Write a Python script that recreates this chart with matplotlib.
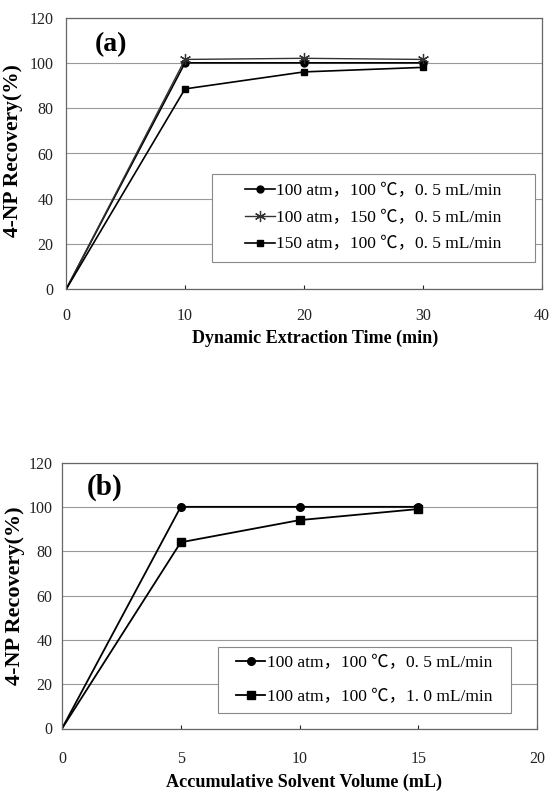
"""
4-NP recovery curves: (a) vs dynamic extraction time, (b) vs accumulated solvent volume.
"""
import matplotlib
matplotlib.use("Agg")
import matplotlib.pyplot as plt
from matplotlib.patches import Rectangle

# panel (a): dynamic extraction time (min)
time_min = [0, 10, 20, 30]
rec_a_100atm_100c = [0, 100, 100, 100]
rec_a_100atm_150c = [0, 101.5, 102, 101.5]
rec_a_150atm_100c = [0, 88.5, 96, 98]
labels_a = ["100 atm，100 ℃，0. 5 mL/min",
            "100 atm，150 ℃，0. 5 mL/min",
            "150 atm，100 ℃，0. 5 mL/min"]

# panel (b): accumulated solvent volume (mL)
volume_ml = [0, 5, 10, 15]
rec_b_05 = [0, 100, 100, 100]
rec_b_10 = [0, 84, 94, 99]
labels_b = ["100 atm，100 ℃，0. 5 mL/min",
            "100 atm，100 ℃，1. 0 mL/min"]

SERIF = ["Liberation Serif", "DejaVu Serif"]
LEG_FONT = ["Liberation Serif", "Noto Sans CJK SC", "DejaVu Sans"]
NO_ORIGIN = [1, 2, 3]  # the origin point carries no marker in the original


def style_axes(ax, xmax, xstep, xpad, ypad):
    ax.set_ylim(0, 120)
    ax.set_xlim(0, xmax)
    ax.set_yticks(range(0, 121, 20))
    ax.set_xticks(range(0, xmax + 1, xstep))
    ax.grid(axis="y", color="#999999", linewidth=0.8)
    ax.set_axisbelow(True)
    for s in ax.spines.values():
        s.set_color("#666666")
        s.set_linewidth(0.9)
    ax.tick_params(axis="x", direction="in", length=3, pad=xpad, colors="#222222",
                   labelsize=11.5)
    ax.tick_params(axis="y", length=0, pad=ypad, colors="#222222", labelsize=11.5)
    for lab in ax.get_xticklabels() + ax.get_yticklabels():
        lab.set_family(SERIF)


def boxed_legend(ax, box, spacing):
    """Legend centred inside a fixed frame given in axes fraction (x0, y0, x1, y1)."""
    x0, y0, x1, y1 = box
    ax.add_patch(Rectangle((x0, y0), x1 - x0, y1 - y0, transform=ax.transAxes,
                           facecolor="white", edgecolor="#888888", linewidth=0.8, zorder=4))
    leg = ax.legend(loc="center", bbox_to_anchor=((x0 + x1) / 2, (y0 + y1) / 2),
                    prop={"family": LEG_FONT, "size": 12.5}, frameon=False,
                    handlelength=1.7, handletextpad=0.1, borderpad=0, labelspacing=spacing)
    leg.set_zorder(5)
    return leg


fig = plt.figure(figsize=(5.52, 7.92), dpi=100)

# ---- panel (a)
ax1 = fig.add_axes([66 / 552, 1 - 289.5 / 792, 476 / 552, 272 / 792])
ax1.plot(time_min, rec_a_100atm_100c, color="black", lw=1.2, marker="o", ms=5,
         markevery=NO_ORIGIN, label=labels_a[0])
ax1.plot(time_min, rec_a_100atm_150c, color="#333333", lw=1.0, marker=(6, 2, 0), ms=8, mew=0.9,
         markevery=NO_ORIGIN, label=labels_a[1])
ax1.plot(time_min, rec_a_150atm_100c, color="black", lw=1.2, marker="s", ms=5,
         markevery=NO_ORIGIN, label=labels_a[2])
style_axes(ax1, 40, 10, xpad=13, ypad=9)
ax1.set_xlabel("Dynamic Extraction Time (min)", family=SERIF, fontweight="bold", fontsize=13)
ax1.xaxis.set_label_coords(0.523, -0.149)
ax1.set_ylabel("4-NP Recovery(%)", family=SERIF, fontweight="bold", fontsize=15.5)
ax1.yaxis.set_label_coords(-0.09, 0.51)
ax1.text(3.78, 107.9, "(a)", family=SERIF, fontweight="bold", fontsize=20,
         ha="center", va="center")
boxed_legend(ax1, (0.307, 0.101, 0.985, 0.425), spacing=0.6)

# ---- panel (b)
ax2 = fig.add_axes([62 / 552, 1 - 728.5 / 792, 475 / 552, 266 / 792])
ax2.plot(volume_ml, rec_b_05, color="black", lw=1.3, marker="o", ms=5.5,
         markevery=NO_ORIGIN, label=labels_b[0])
ax2.plot(volume_ml, rec_b_10, color="black", lw=1.3, marker="s", ms=5.5,
         markevery=NO_ORIGIN, label=labels_b[1])
style_axes(ax2, 20, 5, xpad=16, ypad=7)
ax2.set_xlabel("Accumulative Solvent Volume (mL)", family=SERIF, fontweight="bold", fontsize=13.1)
ax2.xaxis.set_label_coords(0.509, -0.171)
ax2.set_ylabel("4-NP Recovery(%)", family=SERIF, fontweight="bold", fontsize=16)
ax2.yaxis.set_label_coords(-0.078, 0.5)
ax2.text(1.81, 108.9, "(b)", family=SERIF, fontweight="bold", fontsize=21,
         ha="center", va="center")
boxed_legend(ax2, (0.328, 0.058, 0.945, 0.306), spacing=1.0)

fig.savefig("out.png", dpi=100, facecolor="white")
